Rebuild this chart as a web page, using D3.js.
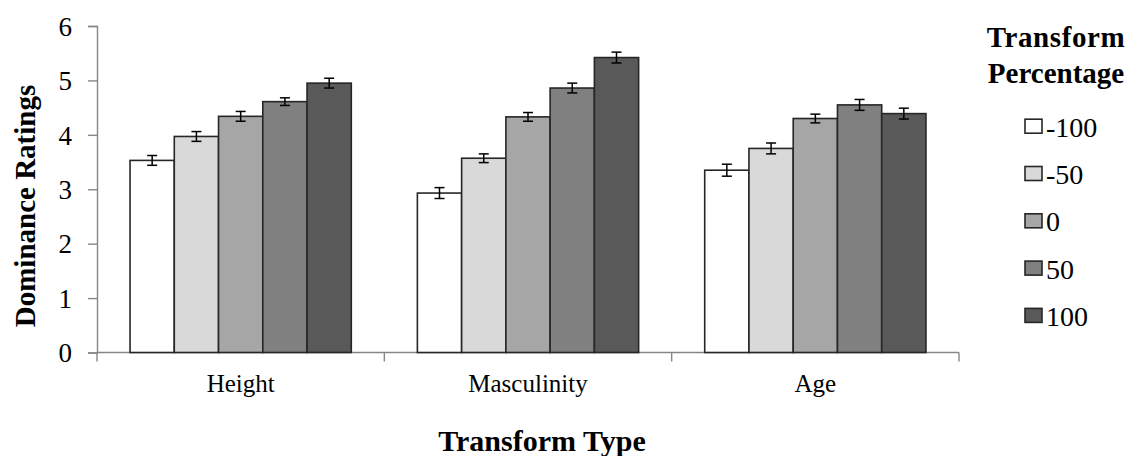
<!DOCTYPE html>
<html>
<head>
<meta charset="utf-8">
<script src="https://cdn.jsdelivr.net/npm/d3@7"></script>
</head>
<body style="margin:0;background:#fff">
<svg id="chart" width="1139" height="456" style="font-family:'Liberation Serif','Times New Roman',Tinos,serif"></svg>
<script>
const categories = ["Height", "Masculinity", "Age"];
const seriesNames = ["-100", "-50", "0", "50", "100"];
const seriesColors = ["#ffffff", "#d9d9d9", "#a6a6a6", "#808080", "#595959"];
// values per series, one per category
const valuesM100 = [3.53, 2.93, 3.35];
const valuesM50  = [3.97, 3.57, 3.75];
const values0    = [4.34, 4.33, 4.30];
const values50   = [4.61, 4.86, 4.55];
const values100  = [4.95, 5.42, 4.39];
const errM100 = [0.09, 0.10, 0.11];
const errM50  = [0.09, 0.08, 0.10];
const err0    = [0.09, 0.08, 0.08];
const err50   = [0.07, 0.09, 0.10];
const err100  = [0.09, 0.10, 0.10];
const yTicks = [0, 1, 2, 3, 4, 5, 6];
const yTitle = "Dominance Ratings";
const xTitle = "Transform Type";
const legendTitle = ["Transform", "Percentage"];

const allValues = [valuesM100, valuesM50, values0, values50, values100];
const allErr = [errM100, errM50, err0, err50, err100];

const FONT = "Liberation Serif";
const svg = d3.select("#chart");
const mLeft = 97, mRight = 959, mTop = 26, mBottom = 352.5;

function serif(sel) {
  return sel.attr("font-family", FONT).style("font-family", FONT);
}

const x = d3.scaleBand().domain(categories).range([mLeft, mRight])
  .paddingInner(0.23).paddingOuter(0.115);
const xs = d3.scaleBand().domain(seriesNames).range([0, x.bandwidth()]);
const y = d3.scaleLinear().domain([0, 6]).range([mBottom, mTop]);

const axisColor = "#868686";

// Y axis
const yAxis = svg.append("g").attr("transform", `translate(${mLeft},0)`)
  .call(d3.axisLeft(y).tickValues(yTicks).tickSize(9).tickPadding(16).tickFormat(d3.format("d")));
serif(yAxis);
yAxis.select(".domain").attr("stroke", axisColor).attr("stroke-width", 1.4);
yAxis.selectAll(".tick line").attr("stroke", axisColor).attr("stroke-width", 1.4);
serif(yAxis.selectAll(".tick text")).attr("font-size", 27).style("font-size", "27px")
  .attr("fill", "#000").attr("dy", "0.34em");

// X axis
const xAxis = svg.append("g").attr("transform", `translate(0,${mBottom})`)
  .call(d3.axisBottom(x).tickSize(0).tickPadding(0));
serif(xAxis);
xAxis.select(".domain").attr("stroke", axisColor).attr("stroke-width", 1.4)
  .attr("d", `M${mLeft},0H${mRight}`);
serif(xAxis.selectAll(".tick text")).attr("font-size", 25).style("font-size", "25px")
  .attr("fill", "#000").attr("dy", 0).attr("y", 39.5);
// boundary ticks between categories
const boundaries = [mLeft].concat(categories.map(c => x(c) + x.bandwidth() + x.step() * x.paddingInner() / 2));
boundaries[boundaries.length - 1] = mRight;
xAxis.selectAll("line.bnd").data(boundaries).enter().append("line")
  .attr("class", "bnd").attr("x1", d => d).attr("x2", d => d).attr("y1", 0).attr("y2", 9)
  .attr("stroke", axisColor).attr("stroke-width", 1.4);

// Bars
const data = [];
categories.forEach((c, ci) => {
  seriesNames.forEach((s, si) => {
    data.push({ c, s, si, v: allValues[si][ci], e: allErr[si][ci] });
  });
});
const bars = svg.append("g");
bars.selectAll("rect").data(data).enter().append("rect")
  .attr("x", d => x(d.c) + xs(d.s))
  .attr("y", d => y(d.v))
  .attr("width", xs.bandwidth())
  .attr("height", d => y(0) - y(d.v))
  .attr("fill", d => seriesColors[d.si])
  .attr("stroke", "#262626")
  .attr("stroke-width", 1.6);

// Error bars
const eb = svg.append("g").attr("stroke", "#000").attr("stroke-width", 1.5);
data.forEach(d => {
  const cx = x(d.c) + xs(d.s) + xs.bandwidth() / 2;
  const y1 = y(d.v + d.e), y2 = y(d.v - d.e);
  eb.append("line").attr("x1", cx).attr("x2", cx).attr("y1", y1).attr("y2", y2);
  eb.append("line").attr("x1", cx - 5).attr("x2", cx + 5).attr("y1", y1).attr("y2", y1);
  eb.append("line").attr("x1", cx - 5).attr("x2", cx + 5).attr("y1", y2).attr("y2", y2);
});

// Axis titles
serif(svg.append("text"))
  .attr("transform", `translate(35,206) rotate(-90)`)
  .attr("text-anchor", "middle")
  .style("font-size", "29px").style("font-weight", "bold")
  .text(yTitle);
serif(svg.append("text"))
  .attr("x", (mLeft + mRight) / 2 + 14).attr("y", 450.5)
  .attr("text-anchor", "middle")
  .style("font-size", "30px").style("font-weight", "bold")
  .text(xTitle);

// Legend
const lg = serif(svg.append("g"));
serif(lg.selectAll("text.lt").data(legendTitle).enter().append("text"))
  .attr("class", "lt").attr("x", 1056).attr("y", (d, i) => 46.5 + i * 36.8)
  .attr("text-anchor", "middle")
  .style("font-size", "29px").style("font-weight", "bold")
  .style("letter-spacing", (d, i) => i === 0 ? "0.6px" : "0px")
  .text(d => d);
const items = lg.selectAll("g.item").data(seriesNames).enter().append("g")
  .attr("class", "item").attr("transform", (d, i) => `translate(1025,${136.7 + i * 47.3})`);
items.append("rect").attr("x", 0).attr("y", -17.5).attr("width", 17).attr("height", 14)
  .attr("fill", (d, i) => seriesColors[i]).attr("stroke", "#262626").attr("stroke-width", 1.6);
serif(items.append("text")).attr("x", 21).attr("y", 0)
  .style("font-size", "28px").text(d => d);
</script>
</body>
</html>
